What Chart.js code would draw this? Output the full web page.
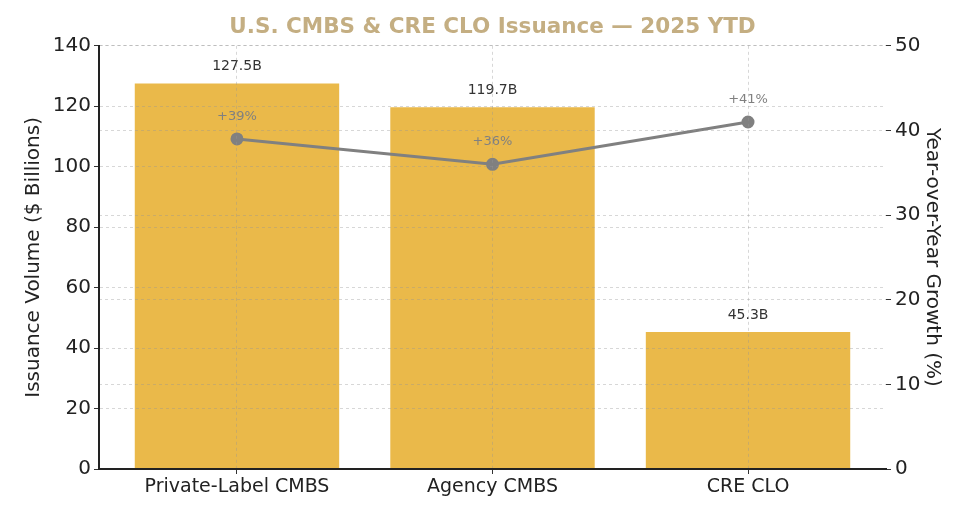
<!DOCTYPE html>
<html>
<head>
<meta charset="utf-8">
<script src="https://cdn.jsdelivr.net/npm/chart.js@4"></script>
<style>
html,body{margin:0;padding:0;background:#fff;overflow:hidden;}
canvas{display:block;}
</style>
</head>
<body>
<canvas id="issuanceChart" width="968" height="510"></canvas>
<script>

const categories = ["Private-Label CMBS","Agency CMBS","CRE CLO"];
const issuance = [127.5,119.7,45.3];
const growth = [39,36,41];
const leftTicks = [0,20,40,60,80,100,120,140];
const rightTicks = [0,10,20,30,40,50];

const font = "'DejaVu Sans', sans-serif";
const gridColor = "rgba(150,150,150,0.38)";

// value labels above bars and growth points
const labelPlugin = {
    id:"labels",
    afterDatasetsDraw(chart){
        const ctx = chart.ctx;
        ctx.save();
        ctx.textAlign = "center";
        ctx.textBaseline = "bottom";

        ctx.font = "14px " + font;
        ctx.fillStyle = "#333333";
        chart.getDatasetMeta(0).data.forEach((bar,i)=>{
            ctx.fillText(issuance[i].toFixed(1) + "B", bar.x, bar.y - 10);
        });

        ctx.font = "13px " + font;
        ctx.fillStyle = "#808080";
        chart.getDatasetMeta(1).data.forEach((pt,i)=>{
            ctx.fillText("+" + growth[i] + "%", pt.x, pt.y - 16);
        });

        ctx.restore();
    }
};

new Chart(document.getElementById("issuanceChart"),{

    data:{
        datasets:[
            {
                type:"bar",
                data:categories.map((c,i)=>({x:i,y:issuance[i]})),
                yAxisID:"y",
                backgroundColor:"#EAB94A",
                barPercentage:0.8,
                categoryPercentage:1,
                order:2
            },
            {
                type:"line",
                data:categories.map((c,i)=>({x:i,y:growth[i]})),
                yAxisID:"y1",
                borderColor:"#808080",
                backgroundColor:"#808080",
                borderWidth:3,
                pointRadius:5,
                pointHoverRadius:5,
                order:1
            }
        ]
    },

    options:{
        responsive:false,
        animation:false,
        devicePixelRatio:1,
        layout:{padding:{top:6,left:22,right:22,bottom:0}},
        plugins:{
            legend:{display:false},
            tooltip:{enabled:false},
            title:{
                display:true,
                fullSize:false,
                text:"U.S. CMBS & CRE CLO Issuance — 2025 YTD",
                color:"#C4AE82",
                font:{family:font,size:21.5,weight:"bold"},
                padding:{top:9,bottom:5}
            }
        },
        scales:{
            x:{
                type:"linear",
                min:-0.54,
                max:2.54,
                offset:false,
                afterBuildTicks(scale){ scale.ticks = categories.map((c,i)=>({value:i})); },
                grid:{color:gridColor,offset:false,z:1,tickLength:5,tickColor:"#333333"},
                border:{color:"#222222",width:2,dash:[3,3],z:2},
                ticks:{color:"#222222",font:{family:font,size:19},padding:2,maxRotation:0,autoSkip:false,
                    callback:(v)=>categories[v]},
                afterFit(scale){ scale.height = 41; }
            },
            y:{
                position:"left",
                min:0,
                max:140,
                afterBuildTicks(scale){ scale.ticks = leftTicks.map(v=>({value:v})); },
                grid:{color:gridColor,z:1,tickLength:5,tickColor:"#333333"},
                border:{color:"#222222",width:2,dash:[3,3],z:2},
                ticks:{color:"#222222",font:{family:font,size:20},padding:3,autoSkip:false},
                title:{display:true,text:"Issuance Volume ($ Billions)",color:"#222222",font:{family:font,size:20},padding:{top:0,bottom:4}},
                afterFit(scale){ scale.width = 77; }
            },
            y1:{
                position:"right",
                min:0,
                max:50,
                afterBuildTicks(scale){ scale.ticks = rightTicks.map(v=>({value:v})); },
                grid:{color:gridColor,z:1,tickLength:5,tickColor:"#333333"},
                border:{display:false,dash:[3,3]},
                ticks:{color:"#222222",font:{family:font,size:20},padding:4,autoSkip:false},
                title:{display:true,text:"Year-over-Year Growth (%)",color:"#222222",font:{family:font,size:20},padding:{top:2,bottom:0}},
                afterFit(scale){ scale.width = 60; }
            }
        }
    },

    plugins:[labelPlugin]

});

</script>
</body>
</html>
